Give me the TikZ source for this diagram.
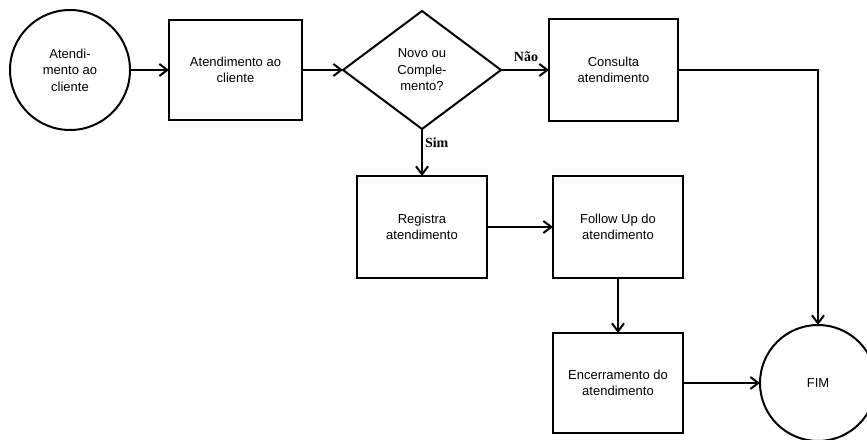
\documentclass[tikz,border=0pt]{standalone}
\usepackage{fontspec}
\setmainfont{Liberation Sans}
\newfontfamily\rotulofont{Liberation Serif}
\usepackage{tikz}
\usetikzlibrary{shapes.geometric,arrows.meta,positioning}

\begin{document}
\begin{tikzpicture}[
  x=1pt, y=-1pt,
  node distance=40pt and 40pt,
  bloco/.style={draw, line width=2pt, outer sep=0pt, minimum width=130pt, minimum height=102pt, inner sep=2pt, align=center, font=\fontsize{13}{16.5}\selectfont},
  terminal/.style={draw, circle, line width=2pt, outer sep=0pt, inner sep=0pt, align=center, font=\fontsize{13}{16.5}\selectfont},
  decisao/.style={draw, diamond, line width=2pt, outer sep=0pt, inner sep=0pt, minimum width=158pt, minimum height=118pt, align=center, font=\fontsize{13}{16.5}\selectfont},
  rotulo/.style={font=\rotulofont\bfseries\fontsize{14}{16}\selectfont, inner sep=2pt},
  seta/.style={-{Straight Barb[length=8pt,width=12pt]}, line width=2pt}
]
\useasboundingbox (0,0) rectangle (867,439);

\node[terminal, minimum size=120pt] (inicio) at (70,70) {Atendi-\\mento ao\\cliente};
\node[bloco, minimum width=133pt, minimum height=100pt, right=39pt of inicio] (atend) {Atendimento ao\\cliente};
\node[decisao, right=41pt of atend] (novo) {Novo ou\\Comple-\\mento?};
\node[bloco, minimum width=129pt, right=48pt of novo] (consulta) {Consulta\\atendimento};
\node[bloco, below=47pt of novo] (registra) {Registra\\atendimento};
\node[bloco, right=66pt of registra] (follow) {Follow Up do\\atendimento};
\node[bloco, minimum height=100pt, below=55pt of follow] (encerra) {Encerramento do\\atendimento};
\node[terminal, minimum size=116pt, right=77pt of encerra] (fim) {FIM};

\draw[seta] (inicio) -- (atend);
\draw[seta] (atend) -- (novo);
\draw[seta] (novo) -- node[rotulo, above=5pt, pos=0.52] (nao) {Não} (consulta);
\draw[seta] (novo) -- node[rotulo, right, pos=0.3] (sim) {Sim} (registra);
\draw[seta] (registra) -- (follow);
\draw[seta] (follow) -- (encerra);
\draw[seta] (encerra) -- (fim);
\draw[seta] (consulta) -| (fim);
\end{tikzpicture}
\end{document}
